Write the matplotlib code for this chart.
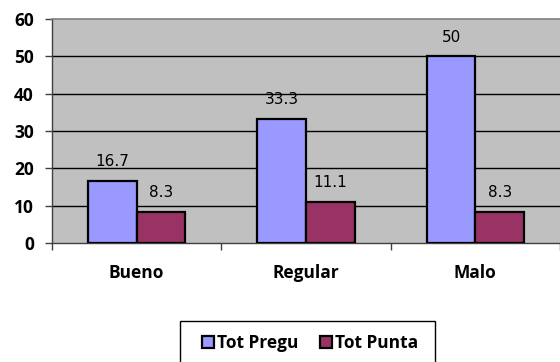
import matplotlib
matplotlib.use("Agg")
import matplotlib.pyplot as plt
from matplotlib.patches import Rectangle
import numpy as np

categories = ["Bueno", "Regular", "Malo"]
series_names = ["Tot Pregu", "Tot Punta"]
tot_pregu = [16.7, 33.3, 50]
tot_punta = [8.3, 11.1, 8.3]
value_labels_pregu = ["16.7", "33.3", "50"]
value_labels_punta = ["8.3", "11.1", "8.3"]
y_ticks = [0, 10, 20, 30, 40, 50, 60]

W, H = 560, 362
fig = plt.figure(figsize=(W / 100, H / 100), dpi=100)
fig.patch.set_facecolor("white")

# plot area in pixel coordinates (it runs off the right edge)
left_px, right_px, top_px, bottom_px = 52, 560, 19, 243
ax = fig.add_axes([left_px / W, 1 - bottom_px / H,
                   (right_px - left_px) / W, (bottom_px - top_px) / H])
ax.set_facecolor("#C0C0C0")

cat_w = 171.0  # pixels per category
x = np.arange(len(categories))
ax.set_xlim(-0.5, -0.5 + (right_px - left_px) / cat_w)
ax.set_ylim(0, 60)

bw = 0.287
c_blue = "#9999FF"
c_red = "#993366"
b1 = ax.bar(x - bw / 2, tot_pregu, width=bw, color=c_blue, edgecolor="black",
            linewidth=1.6, zorder=3, label=series_names[0])
b2 = ax.bar(x + bw / 2, tot_punta, width=bw, color=c_red, edgecolor="black",
            linewidth=1.6, zorder=3, label=series_names[1])

label_font = dict(family="DejaVu Sans", fontsize=11, color="black")
for xi, v, t in zip(x, tot_pregu, value_labels_pregu):
    ax.annotate(t, (xi - bw / 2, v), xytext=(0, 8.5), textcoords="offset points",
                ha="center", va="bottom", **label_font)
for xi, v, t in zip(x, tot_punta, value_labels_punta):
    ax.annotate(t, (xi + bw / 2, v), xytext=(0, 8.5), textcoords="offset points",
                ha="center", va="bottom", **label_font)

# gridlines
ax.set_yticks(y_ticks)
for yv in y_ticks[1:-1]:
    ax.axhline(yv, color="black", linewidth=1.0, zorder=1)

bold = dict(family="Open Sans", weight="bold")
ax.tick_params(axis="y", length=5, width=1, color="#404040", pad=8)
ax.set_yticklabels([str(v) for v in y_ticks], fontsize=12.5, **bold)

ax.set_xticks(x)
ax.set_xticklabels(categories, fontsize=12.5, **bold)
ax.set_xticks(np.arange(-0.5, len(categories) + 0.5, 1.0), minor=True)
ax.tick_params(axis="x", which="major", length=0, pad=15)
ax.tick_params(axis="x", which="minor", length=5, width=1, color="#404040")

for s in ["left", "bottom"]:
    ax.spines[s].set_color("#404040")
    ax.spines[s].set_linewidth(1.0)
ax.spines["top"].set_color("#808080")
ax.spines["top"].set_linewidth(1.2)
ax.spines["right"].set_visible(False)

# legend frame
fig.patches.append(Rectangle((180 / W, -0.05), (435 - 180) / W, 1 - 321 / H + 0.05,
                             transform=fig.transFigure, facecolor="white",
                             edgecolor="black", linewidth=1.0, zorder=0))
leg = fig.legend(handles=[b1, b2], labels=series_names, ncol=2,
                 loc="center", bbox_to_anchor=(310 / W, 1 - 343 / H),
                 frameon=False, handlelength=0.7, handleheight=0.7,
                 handletextpad=0.2, columnspacing=1.2,
                 prop=dict(family="Open Sans", weight="bold", size=12.5))

fig.savefig("out.png", dpi=100)
